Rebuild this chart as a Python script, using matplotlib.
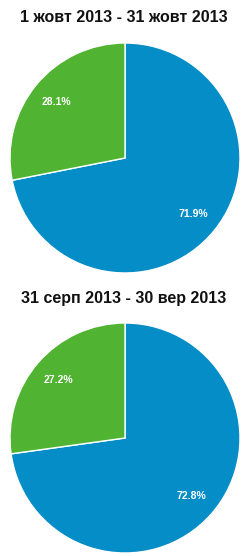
import matplotlib.pyplot as plt

titles = ['1 жовт 2013 - 31 жовт 2013', '31 серп 2013 - 30 вер 2013']
top_values = [71.9, 28.1]
bottom_values = [72.8, 27.2]
colors = ['#058DC7', '#50B432']

plt.rcParams['font.family'] = ['Liberation Sans', 'DejaVu Sans']

W, H = 247, 556
fig = plt.figure(figsize=(W / 100, H / 100), dpi=100)

# pie boxes in pixels: (left, top, size), title y
boxes = [(10, 43, 230, 17), (10, 323, 230, 298)]

for (x0, y0, size, ty), values, title in zip(boxes, [top_values, bottom_values], titles):
    ax = fig.add_axes([x0 / W, 1 - (y0 + size) / H, size / W, size / H])
    wedges, texts, autotexts = ax.pie(
        values, colors=colors, startangle=90, counterclock=False,
        autopct='%.1f%%', pctdistance=0.77,
        wedgeprops=dict(edgecolor='white', linewidth=1),
        textprops=dict(color='white', fontsize=7.5, fontweight='bold'))
    ax.set_xlim(-1, 1)
    ax.set_ylim(-1, 1)
    ax.set_aspect('equal')
    fig.text(0.5, 1 - ty / H, title, ha='center', va='center',
             fontsize=11.5, fontweight='bold', color='#111111')

fig.savefig('out.png', dpi=100)
